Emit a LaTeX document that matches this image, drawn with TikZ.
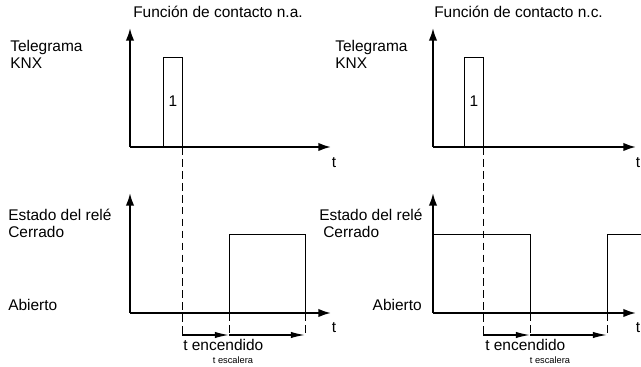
\documentclass[tikz,border=0pt]{standalone}
\usepackage{fontspec}
\setmainfont{Liberation Sans}
\usetikzlibrary{arrows.meta}

\tikzset{
  eje/.style={line width=1.4pt, -{Latex[length=9pt,width=6pt]}},
  senal/.style={line width=0.7pt},
  guia/.style={line width=0.7pt, dash pattern=on 5.5pt off 3pt},
  flecha/.style={line width=1pt, -{Latex[length=10pt,width=4.5pt]}},
  txt/.style={anchor=base west, inner sep=0pt, font=\fontsize{11}{13}\selectfont},
  peq/.style={anchor=base, inner sep=0pt, font=\fontsize{6.6}{8}\selectfont}
}

\begin{document}
\begin{tikzpicture}[x=0.025cm, y=-0.025cm]
  \useasboundingbox (0,0) rectangle (641,367);

  \begin{scope} % contacto n.a.
    \coordinate (oA) at (130,147);
    \coordinate (yA) at (130,28);
    \coordinate (xA) at (331,147);
    \coordinate (oB) at (130,313);
    \coordinate (yB) at (130,193);
    \coordinate (xB) at (331,313);

    \node[txt] (titA) at (133,18) {Función de contacto n.a.};
    \node[txt] (telA) at (10,52) {Telegrama};
    \node[txt] (knxA) at (10,69) {KNX};
    \node[txt] (estA) at (8,221) {Estado del relé};
    \node[txt] (cerA) at (8,238) {Cerrado};
    \node[txt] (abiA) at (8,311) {Abierto};

    \draw[eje] (oA) -- (yA);
    \draw[eje] (oA) -- (xA);
    \draw[eje] (oB) -- (yB);
    \draw[eje] (oB) -- (xB);
    \node[txt, anchor=base] (tA) at (334,168) {t};
    \node[txt, anchor=base] (tB) at (334,333) {t};

    % telegrama
    \draw[senal] (163,147) |- (182,57) -- (182,147);
    \node[txt, anchor=base] (unoA) at (173,107) {1};

    % rele
    \draw[senal] (229,313) |- (305,234) -- (305,313);

    \coordinate (d1) at (182,335);
    \coordinate (d2) at (229,335);
    \coordinate (d3) at (305,335);
    \draw[guia] (182,147) -- (d1);
    \draw[guia] (229,313) -- (d2);
    \draw[guia] (305,313) -- (d3);
    \draw[flecha] (d1) -- (d2); % encendido
    \draw[flecha] (d2) -- (d3); % escalera

    \node[txt] (encA) at (183,351) {t encendido};
    \node[peq] (escA) at (233,364) {t escalera};
  \end{scope}

  \begin{scope} % contacto n.c.
    \coordinate (oC) at (433,147);
    \coordinate (yC) at (433,28);
    \coordinate (xC) at (636,147);
    \coordinate (oD) at (433,313);
    \coordinate (yD) at (433,193);
    \coordinate (xD) at (636,313);

    \node[txt] (titC) at (434,18) {Función de contacto n.c.};
    \node[txt] (telC) at (335,52) {Telegrama};
    \node[txt] (knxC) at (335,69) {KNX};
    \node[txt] (estC) at (319,221) {Estado del relé};
    \node[txt] (cerC) at (323,238) {Cerrado};
    \node[txt, anchor=base east] (abiC) at (422,311) {Abierto};

    \draw[eje] (oC) -- (yC);
    \draw[eje] (oC) -- (xC);
    \draw[eje] (oD) -- (yD);
    \draw[eje] (oD) -- (xD);
    \node[txt, anchor=base] (tC) at (638,168) {t};
    \node[txt, anchor=base] (tD) at (638,333) {t};

    % telegrama
    \draw[senal] (464,147) |- (483,57) -- (483,147);
    \node[txt, anchor=base] (unoC) at (474,107) {1};

    % rele
    \draw[senal] (433,234) -| (530,313);
    \draw[senal] (607,313) |- (641,234);

    \coordinate (e1) at (483,335);
    \coordinate (e2) at (530,335);
    \coordinate (e3) at (607,335);
    \draw[guia] (483,147) -- (e1);
    \draw[guia] (530,313) -- (e2);
    \draw[guia] (607,313) -- (e3);
    \draw[flecha] (e1) -- (e2); % encendido
    \draw[flecha] (e2) -- (e3); % escalera

    \node[txt] (encC) at (485,351) {t encendido};
    \node[peq] (escC) at (550,364) {t escalera};
  \end{scope}
\end{tikzpicture}
\end{document}
